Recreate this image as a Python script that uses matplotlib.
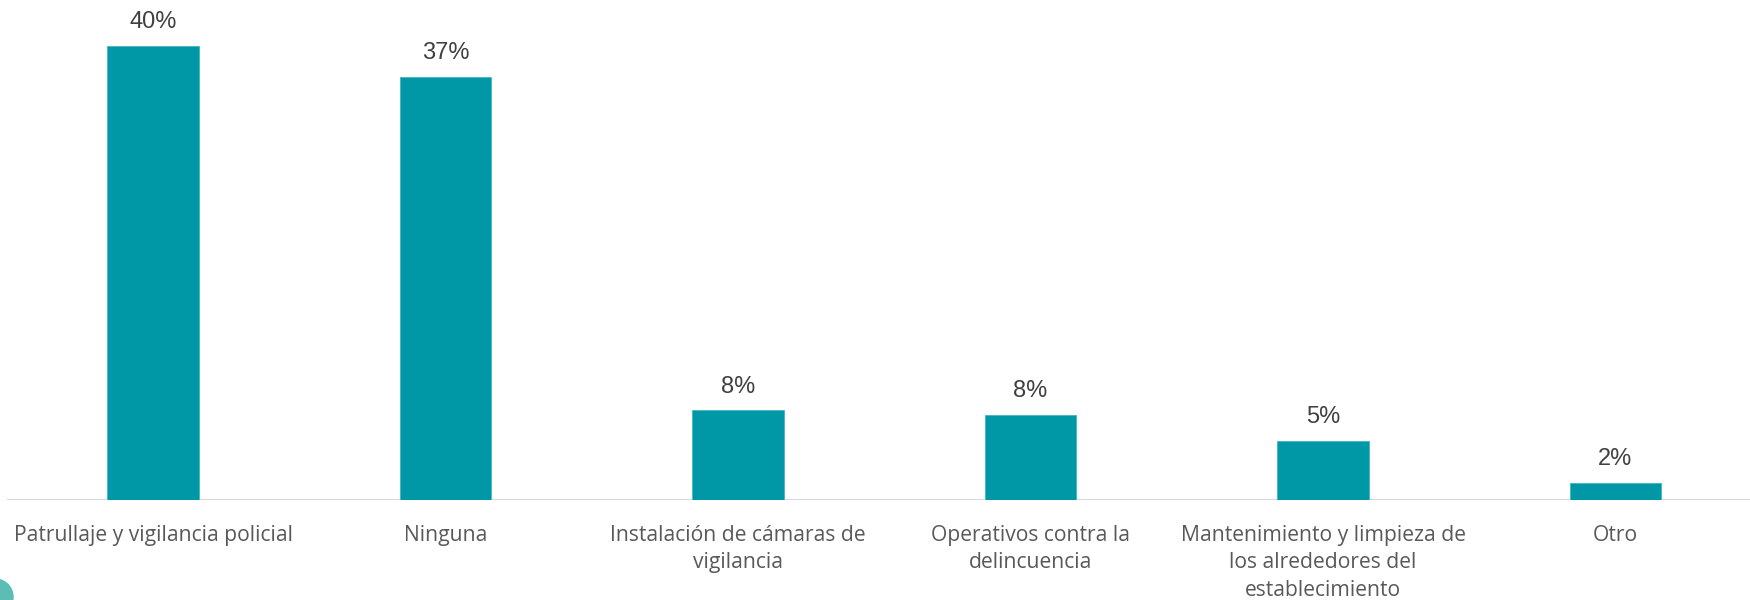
import matplotlib
matplotlib.use('Agg')
import matplotlib.pyplot as plt
from matplotlib.patches import Ellipse

categories = ['Patrullaje y vigilancia policial', 'Ninguna',
              'Instalación de cámaras de\nvigilancia', 'Operativos contra la\ndelincuencia',
              'Mantenimiento y limpieza de\nlos alrededores del\nestablecimiento', 'Otro']
values = [40.0, 37.3, 7.9, 7.5, 5.2, 1.5]
labels = ['40%', '37%', '8%', '8%', '5%', '2%']

fig = plt.figure(figsize=(17.5, 6), dpi=100)
ax = fig.add_axes([7/1750, 100/600, 1743/1750, 500/600])
x = range(len(categories))
ax.bar(x, values, width=0.313, color='#0097A7', edgecolor='#3fb6c2', linewidth=0.6)
ax.set_xlim(-0.5, 5.46)
ax.set_ylim(0, 44.05)
for s in ax.spines.values():
    s.set_visible(False)
ax.axhline(0, color='#d9d9d9', lw=1.5, zorder=0)
ax.set_yticks([])
ax.set_xticks(list(x))
ax.set_xticklabels(categories, fontsize=15.2, color='#595959', family='Open Sans',
                   linespacing=1.40, va='top')
ax.tick_params(axis='x', length=0, pad=18)
for i, (v, t) in enumerate(zip(values, labels)):
    ax.annotate(t, (i, v), xytext=(0, 9), textcoords='offset points', ha='center',
                va='bottom', fontsize=17, color='#404040', family='Liberation Sans')

# partial logo at bottom-left
fig.patches.append(Ellipse((-5/1750, 3/600), 36/1750, 36/600, transform=fig.transFigure,
                           color='#5bbdb3', clip_on=False))

fig.savefig('out.png', dpi=100)
